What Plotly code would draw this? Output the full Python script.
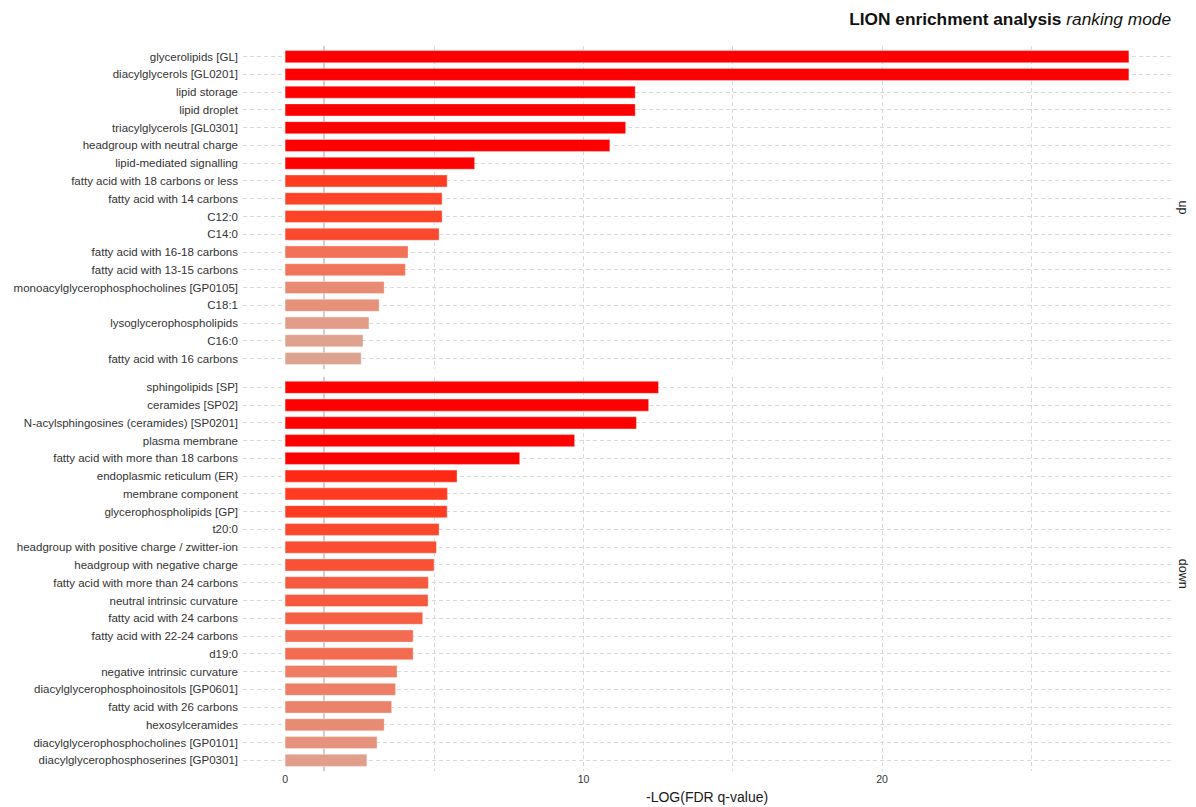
import plotly.graph_objects as go

# ---------------- data ----------------
up_terms = [
    "glycerolipids [GL]", "diacylglycerols [GL0201]", "lipid storage", "lipid droplet",
    "triacylglycerols [GL0301]", "headgroup with neutral charge", "lipid-mediated signalling",
    "fatty acid with 18 carbons or less", "fatty acid with 14 carbons", "C12:0", "C14:0",
    "fatty acid with 16-18 carbons", "fatty acid with 13-15 carbons",
    "monoacylglycerophosphocholines [GP0105]", "C18:1", "lysoglycerophospholipids",
    "C16:0", "fatty acid with 16 carbons",
]
up_values = [28.27, 28.27, 11.73, 11.73, 11.41, 10.88, 6.35, 5.43, 5.26, 5.26, 5.16,
             4.12, 4.03, 3.32, 3.15, 2.81, 2.61, 2.55]

down_terms = [
    "sphingolipids [SP]", "ceramides [SP02]", "N-acylsphingosines (ceramides) [SP0201]",
    "plasma membrane", "fatty acid with more than 18 carbons", "endoplasmic reticulum (ER)",
    "membrane component", "glycerophospholipids [GP]", "t20:0",
    "headgroup with positive charge / zwitter-ion", "headgroup with negative charge",
    "fatty acid with more than 24 carbons", "neutral intrinsic curvature",
    "fatty acid with 24 carbons", "fatty acid with 22-24 carbons", "d19:0",
    "negative intrinsic curvature", "diacylglycerophosphoinositols [GP0601]",
    "fatty acid with 26 carbons", "hexosylceramides",
    "diacylglycerophosphocholines [GP0101]", "diacylglycerophosphoserines [GP0301]",
]
down_values = [12.51, 12.18, 11.77, 9.70, 7.86, 5.76, 5.44, 5.43, 5.16, 5.07, 4.99,
               4.80, 4.79, 4.61, 4.29, 4.29, 3.75, 3.70, 3.57, 3.32, 3.08, 2.74]

facet_labels = ["up", "down"]
x_tick_vals = [0, 5, 10, 15, 20, 25]
x_tick_text = ["0", "", "10", "", "20", ""]
signif_threshold = 1.301  # -log10(0.05)

# ---------------- style ----------------
FONT = "Liberation Sans, Arial, Helvetica, sans-serif"
TXT = "#333333"
GRID = "#d9d9d9"
DASH = "4px,3px"
colorscale = [
    [0.0, "#dba592"], [0.08, "#e29c88"], [0.21, "#e88c74"], [0.42, "#f27258"],
    [0.605, "#f65a3e"], [0.77, "#ff3c22"], [0.86, "#ff2814"], [1.0, "#ff0000"],
]
cmin, cmax = 2.5, 6.3

fig = go.Figure()

for terms, vals, ya in [(up_terms, up_values, "y"), (down_terms, down_values, "y2")]:
    fig.add_trace(go.Bar(
        x=vals, y=terms, orientation="h", yaxis=ya, xaxis="x",
        width=0.68,
        marker=dict(color=vals, colorscale=colorscale, cmin=cmin, cmax=cmax,
                    line=dict(width=0.6, color="rgba(255,255,255,0.6)")),
        showlegend=False, hoverinfo="x+y",
    ))

yaxis_common = dict(
    type="category", showgrid=True, gridcolor=GRID, griddash=DASH, gridwidth=0.8,
    ticks="", showline=False, zeroline=False, automargin=False,
    tickfont=dict(family=FONT, size=11.5, color=TXT), ticklabelstandoff=4,
)

UP_DOM = [0.5542, 1.0]
DOWN_DOM = [0.0, 0.5439]

fig.update_layout(
    width=1196, height=807,
    margin=dict(l=243, r=25, t=46, b=36, autoexpand=False),
    paper_bgcolor="white", plot_bgcolor="white",
    bargap=0.3,
    xaxis=dict(
        range=[-1.41, 29.68], tickmode="array", tickvals=x_tick_vals, ticktext=x_tick_text,
        showgrid=True, gridcolor=GRID, griddash=DASH, gridwidth=0.8,
        zeroline=True, zerolinecolor="rgba(0,0,0,0)", zerolinewidth=0.1,
        ticks="", showline=False, anchor="y2", automargin=False,
        tickfont=dict(family=FONT, size=10.5, color=TXT),
    ),
    yaxis=dict(domain=UP_DOM, categoryorder="array", categoryarray=up_terms,
               range=[len(up_terms) - 0.4, -0.6], anchor="x", **yaxis_common),
    yaxis2=dict(domain=DOWN_DOM, categoryorder="array", categoryarray=down_terms,
                range=[len(down_terms) - 0.4, -0.6], anchor="x", **yaxis_common),
    title=dict(
        text="<b>LION enrichment analysis</b> <i>ranking mode</i>",
        x=1.0, xref="paper", xanchor="right", y=0.977, yanchor="middle",
        font=dict(family=FONT, size=17.3, color="#111111"),
    ),
)

# x-axis title
fig.add_annotation(text="-LOG(FDR q-value)", xref="paper", yref="paper", x=0.5, y=0,
                   xanchor="center", yanchor="middle", yshift=-26, showarrow=False,
                   font=dict(family=FONT, size=14, color="#1a1a1a"))

# significance threshold line, behind the bars, in both panels
for yref in ["y domain", "y2 domain"]:
    fig.add_shape(type="line", xref="x", yref=yref, x0=signif_threshold, x1=signif_threshold,
                  y0=0, y1=1, layer="below", line=dict(color="#c4c4c4", width=1.6))

# facet strip labels
for label, yc in zip(facet_labels, [sum(UP_DOM) / 2, sum(DOWN_DOM) / 2]):
    fig.add_annotation(text=label, xref="paper", yref="paper", x=1.0, y=yc,
                       xanchor="left", yanchor="middle", xshift=3, textangle=90,
                       showarrow=False, font=dict(family=FONT, size=12.5, color="#1a1a1a"))

fig.write_html("out.html")
